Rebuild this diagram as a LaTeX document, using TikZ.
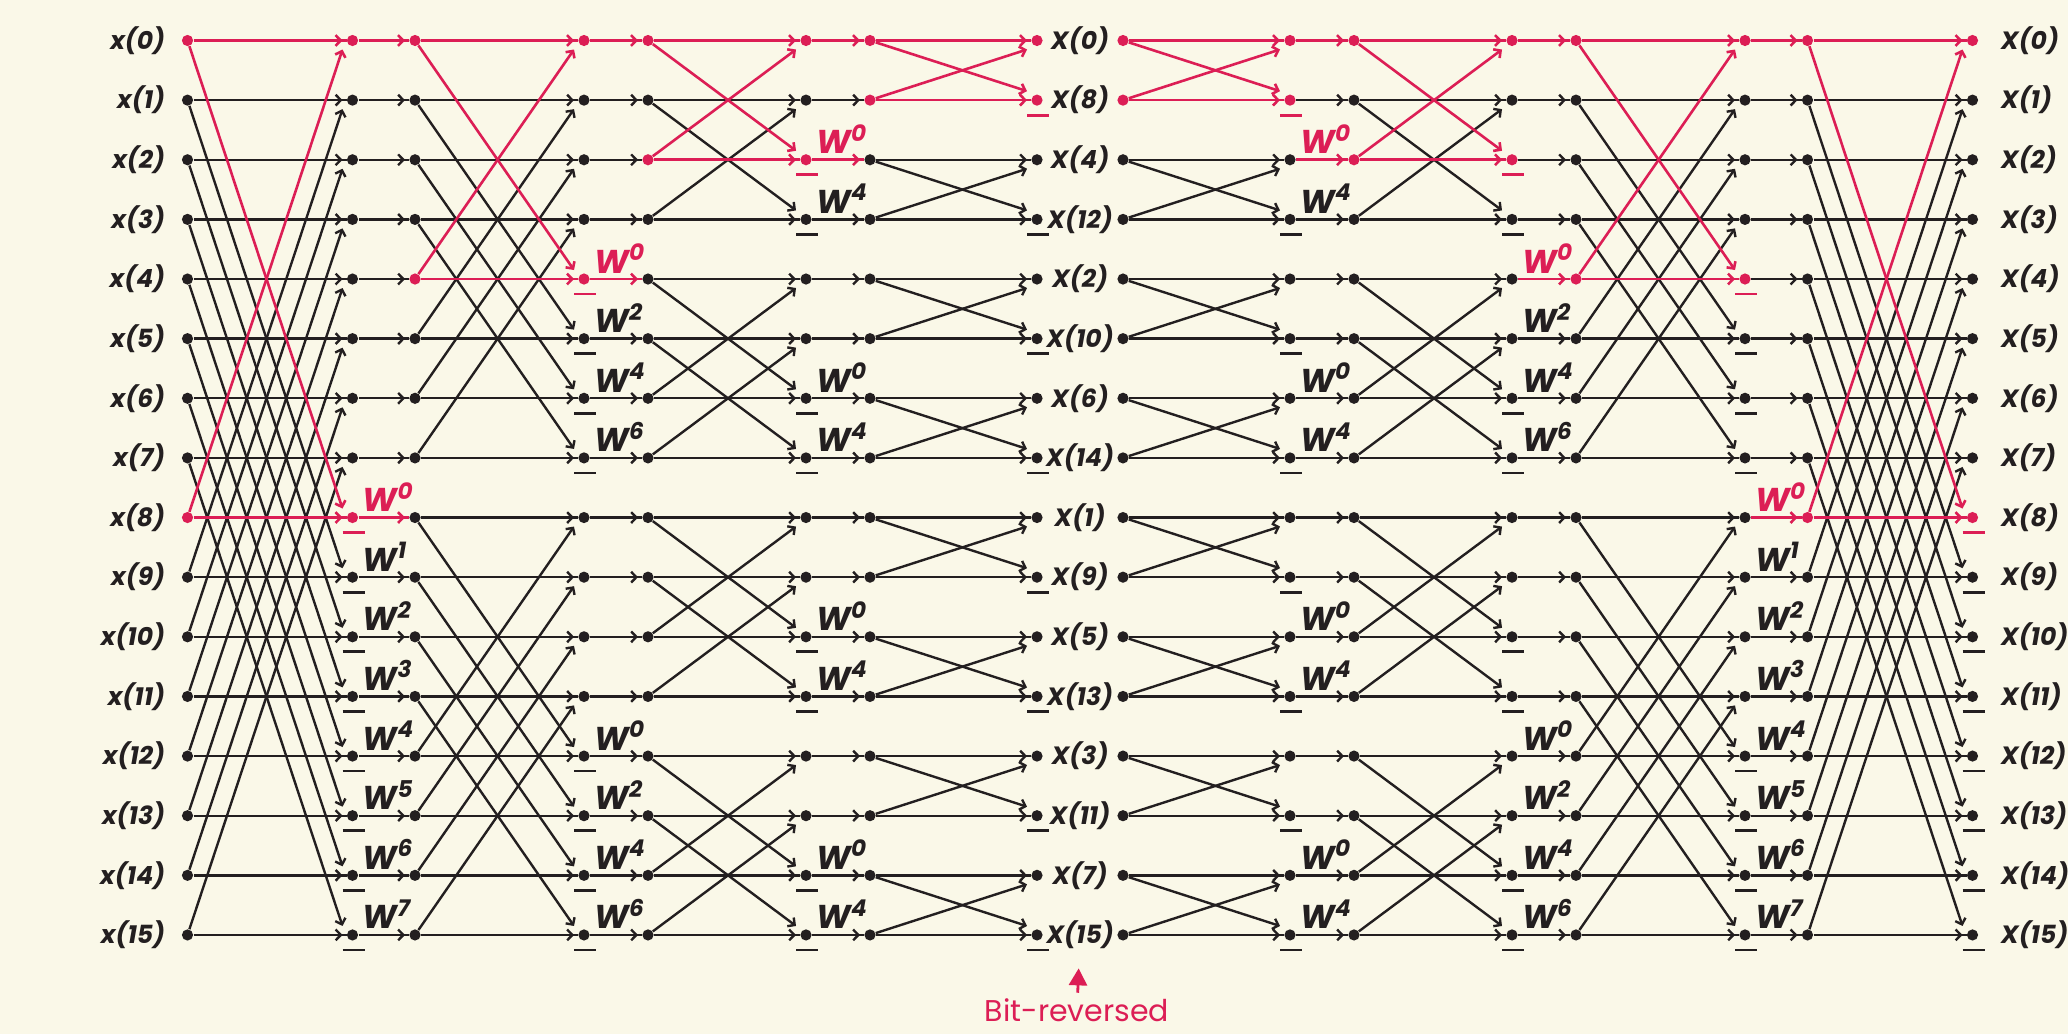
\documentclass[tikz,border=0pt]{standalone}
\usepackage{fontspec}
\setmainfont{Poppins}
\usepackage{xcolor}
\usepackage{tikz}
\usetikzlibrary{calc}
\usetikzlibrary{positioning}
\usetikzlibrary{arrows.meta}
\usetikzlibrary{decorations.markings}

\definecolor{paper}{RGB}{250,248,232}
\definecolor{ink}{RGB}{35,31,32}
\definecolor{hot}{RGB}{220,30,85}

\pgfdeclarelayer{wires}
\pgfsetlayers{wires,main}

\begin{document}
\begin{tikzpicture}[
    x = .5pt,
    y = -.5pt,
    > = {Straight Barb[length=2.6pt,width=5.4pt]},
    dot/.style = {
      circle,
      fill=ink,
      inner sep=0pt,
      minimum size=5.6pt
    },
    hotdot/.style = {dot, fill=hot},
    wire/.style = {draw=ink, line width=1.2pt},
    hotwire/.style = {draw=hot, line width=1.3pt},
    flow/.style = {
      postaction={decorate},
      decoration={markings, mark=at position -2pt with {\arrow{>}}}
    },
    minus/.style = {draw=ink, line width=1.4pt},
    hotminus/.style = {draw=hot, line width=1.4pt},
    sig/.style = {
      font=\fontsize{12.5}{14}\selectfont\bfseries\itshape,
      text=ink,
      inner sep=0pt
    },
    twid/.style = {
      font=\fontsize{16.5}{18}\selectfont\bfseries\itshape,
      text=ink,
      inner sep=0pt
    },
    hottwid/.style = {twid, text=hot},
    note/.style = {
      font=\fontsize{15}{18}\selectfont,
      text=hot,
      inner sep=0pt
    }
  ]
  \useasboundingbox (0,0) rectangle (2068,1034);

  % dots: 16 rows, 8 columns per half; the traced butterfly pair is red
  \foreach \c/\cx in {0/187.5, 1/352.5, 2/415, 3/584, 4/648, 5/806, 6/870, 7/1037,
      8/1123, 9/1290, 10/1354, 11/1512, 12/1576, 13/1745, 14/1807.5, 15/1972.5} {
    \pgfmathtruncatemacro\h{\c<8 ? 2^(3-int(\c/2)) : 2^int((\c-8)/2)}
    \foreach \r in {0,...,15} {
      \pgfmathtruncatemacro\ishot{(\r==0)||(\r==\h)}
      \ifnum\ishot=1 \def\dotstyle{hotdot}\else\def\dotstyle{dot}\fi
      \node[\dotstyle] (d-\c-\r) at (\cx, 40.5+59.63*\r) {};
    }
  }

  \begin{pgfonlayer}{wires}
    \fill[paper] (0,0) rectangle (2068,1034);
    % black pass first, red pass on top
    \foreach \pass in {0,1} {
      \ifnum\pass=1 \def\wirestyle{hotwire}\else\def\wirestyle{wire}\fi
      % butterflies: column a to a+1, span h
      \foreach \a/\h in {0/8, 2/4, 4/2, 6/1, 8/1, 10/2, 12/4, 14/8} {
        \pgfmathtruncatemacro\b{\a+1}
        \foreach \r in {0,...,15} {
          \pgfmathtruncatemacro\ishot{(\r==0)||(\r==\h)}
          \ifnum\ishot=\pass
            \pgfmathtruncatemacro\p{mod(\r,2*\h)<\h ? \r+\h : \r-\h}
            \pgfmathtruncatemacro\dy{\p>\r ? -9 : 9}
            \draw[\wirestyle, flow] (d-\a-\r) -- (d-\b-\r);
            \draw[\wirestyle, ->] (d-\a-\r) -- ($(d-\b-\p)+(-10,\dy)$);
          \fi
        }
      }
      % twiddle links between stages
      \foreach \a/\h in {1/8, 3/4, 5/2, 9/2, 11/4, 13/8} {
        \pgfmathtruncatemacro\b{\a+1}
        \foreach \r in {0,...,15} {
          \pgfmathtruncatemacro\ishot{(\r==0)||(\r==\h)}
          \ifnum\ishot=\pass
            \draw[\wirestyle, flow] (d-\a-\r) -- (d-\b-\r);
          \fi
        }
      }
    }
  \end{pgfonlayer}

  % minus signs under the lower outputs
  \foreach \a/\h in {0/8, 2/4, 4/2, 6/1, 8/1, 10/2, 12/4, 14/8} {
    \pgfmathtruncatemacro\b{\a+1}
    \foreach \r in {0,...,15} {
      \pgfmathtruncatemacro\low{mod(\r,2*\h)>=\h}
      \ifnum\low=1
        \ifnum\r=\h \def\barstyle{hotminus}\else\def\barstyle{minus}\fi
        \draw[\barstyle] ($(d-\b-\r)+(-10,15)$) -- ++(22,0);
      \fi
    }
  }

  % twiddle factors
  \foreach \a/\h in {1/8, 3/4, 5/2, 9/2, 11/4, 13/8} {
    \foreach \r in {0,...,15} {
      \pgfmathtruncatemacro\low{mod(\r,2*\h)>=\h}
      \ifnum\low=1
        \pgfmathtruncatemacro\e{mod(\r,\h)*8/\h}
        \ifnum\r=\h \def\twstyle{hottwid}\else\def\twstyle{twid}\fi
        \node[\twstyle, anchor=base west] (w-\a-\r) at ($(d-\a-\r)+(10,-6)$)
          {W\textsuperscript{\e}};
      \fi
    }
  }

  % signal names
  \foreach \r in {0,...,15} {
    \node[sig, left=8pt of d-0-\r] (in-\r) {x(\r)};
    \node[sig, right=11pt of d-15-\r] (out-\r) {X(\r)};
  }
  \foreach \k [count=\r from 0] in {0,8,4,12,2,10,6,14,1,9,5,13,3,11,7,15} {
    \node[sig] (mid-\r) at ($(d-7-\r)!.5!(d-8-\r)$) {X(\k)};
  }

  \node[note, anchor=base] (bitrev) at ($(mid-15)+(-3,87)$) {Bit-reversed};
  \draw[hot, line width=1.4pt, -{Triangle[length=8.5pt,width=9pt]},
    shorten >=9.5pt, shorten <=3pt] (bitrev) -- (mid-15);
\end{tikzpicture}
\end{document}
